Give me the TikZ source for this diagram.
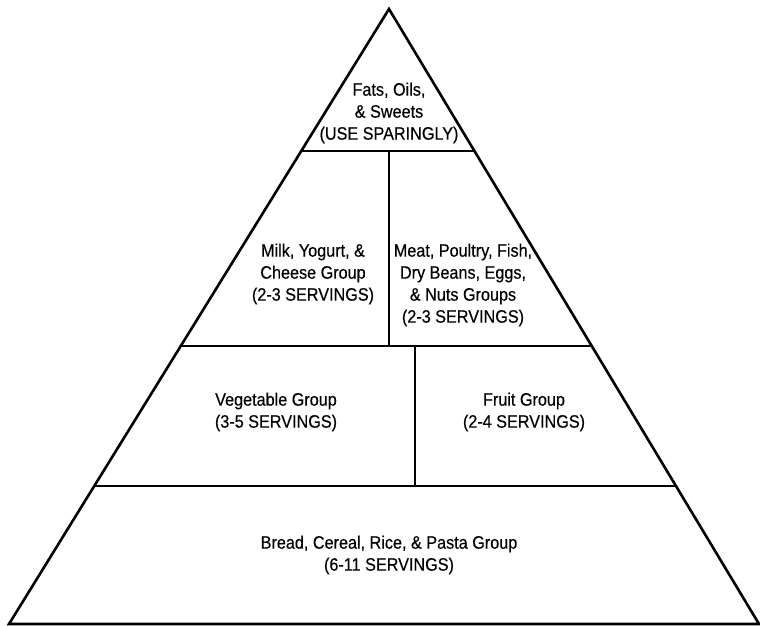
\documentclass[tikz,border=0pt]{standalone}
\usepackage{fontspec}
\setmainfont{Liberation Sans}[FakeStretch=0.9,FakeBold=0.3]
\usetikzlibrary{calc}
\begin{document}
\begin{tikzpicture}[x=1pt,y=-1pt,
  outline/.style={line width=2.6pt,line join=miter},
  divider/.style={line width=1.7pt},
  label/.style={align=center,font=\fontsize{18}{22}\selectfont,inner sep=0pt}]
\useasboundingbox (0,0) rectangle (760,626);
\coordinate (apex) at (389,9);
\coordinate (bl) at (9,624);
\coordinate (br) at (759,624);
% level lines
\coordinate (l1) at ($(apex)!{(151-9)/615}!(bl)$);
\coordinate (r1) at ($(apex)!{(151-9)/615}!(br)$);
\coordinate (l2) at ($(apex)!{(346-9)/615}!(bl)$);
\coordinate (r2) at ($(apex)!{(346-9)/615}!(br)$);
\coordinate (l3) at ($(apex)!{(486-9)/615}!(bl)$);
\coordinate (r3) at ($(apex)!{(486-9)/615}!(br)$);
\coordinate (v1t) at (389,151);
\coordinate (v1b) at (389,346);
\coordinate (v2t) at (415,346);
\coordinate (v2b) at (415,486);
\draw[divider] (l1) -- (r1);
\draw[divider] (l2) -- (r2);
\draw[divider] (l3) -- (r3);
\draw[divider] (v1t) -- (v1b);
\draw[divider] (v2t) -- (v2b);
\draw[outline] (apex) -- (bl) -- (br) -- cycle;
% texts
\node[label] (fats) at (389,113) {Fats, Oils,\\\& Sweets\\(USE SPARINGLY)};
\node[label] (milk) at (313,274) {Milk, Yogurt, \&\\Cheese Group\\(2-3 SERVINGS)};
\node[label] (meat) at (463,285) {Meat, Poultry, Fish,\\Dry Beans, Eggs,\\\& Nuts Groups\\(2-3 SERVINGS)};
\node[label] (veg) at (276,412) {Vegetable Group\\(3-5 SERVINGS)};
\node[label] (fruit) at (524,412) {Fruit Group\\(2-4 SERVINGS)};
\node[label] (bread) at (389,555) {Bread, Cereal, Rice, \& Pasta Group\\(6-11 SERVINGS)};
\end{tikzpicture}
\end{document}
